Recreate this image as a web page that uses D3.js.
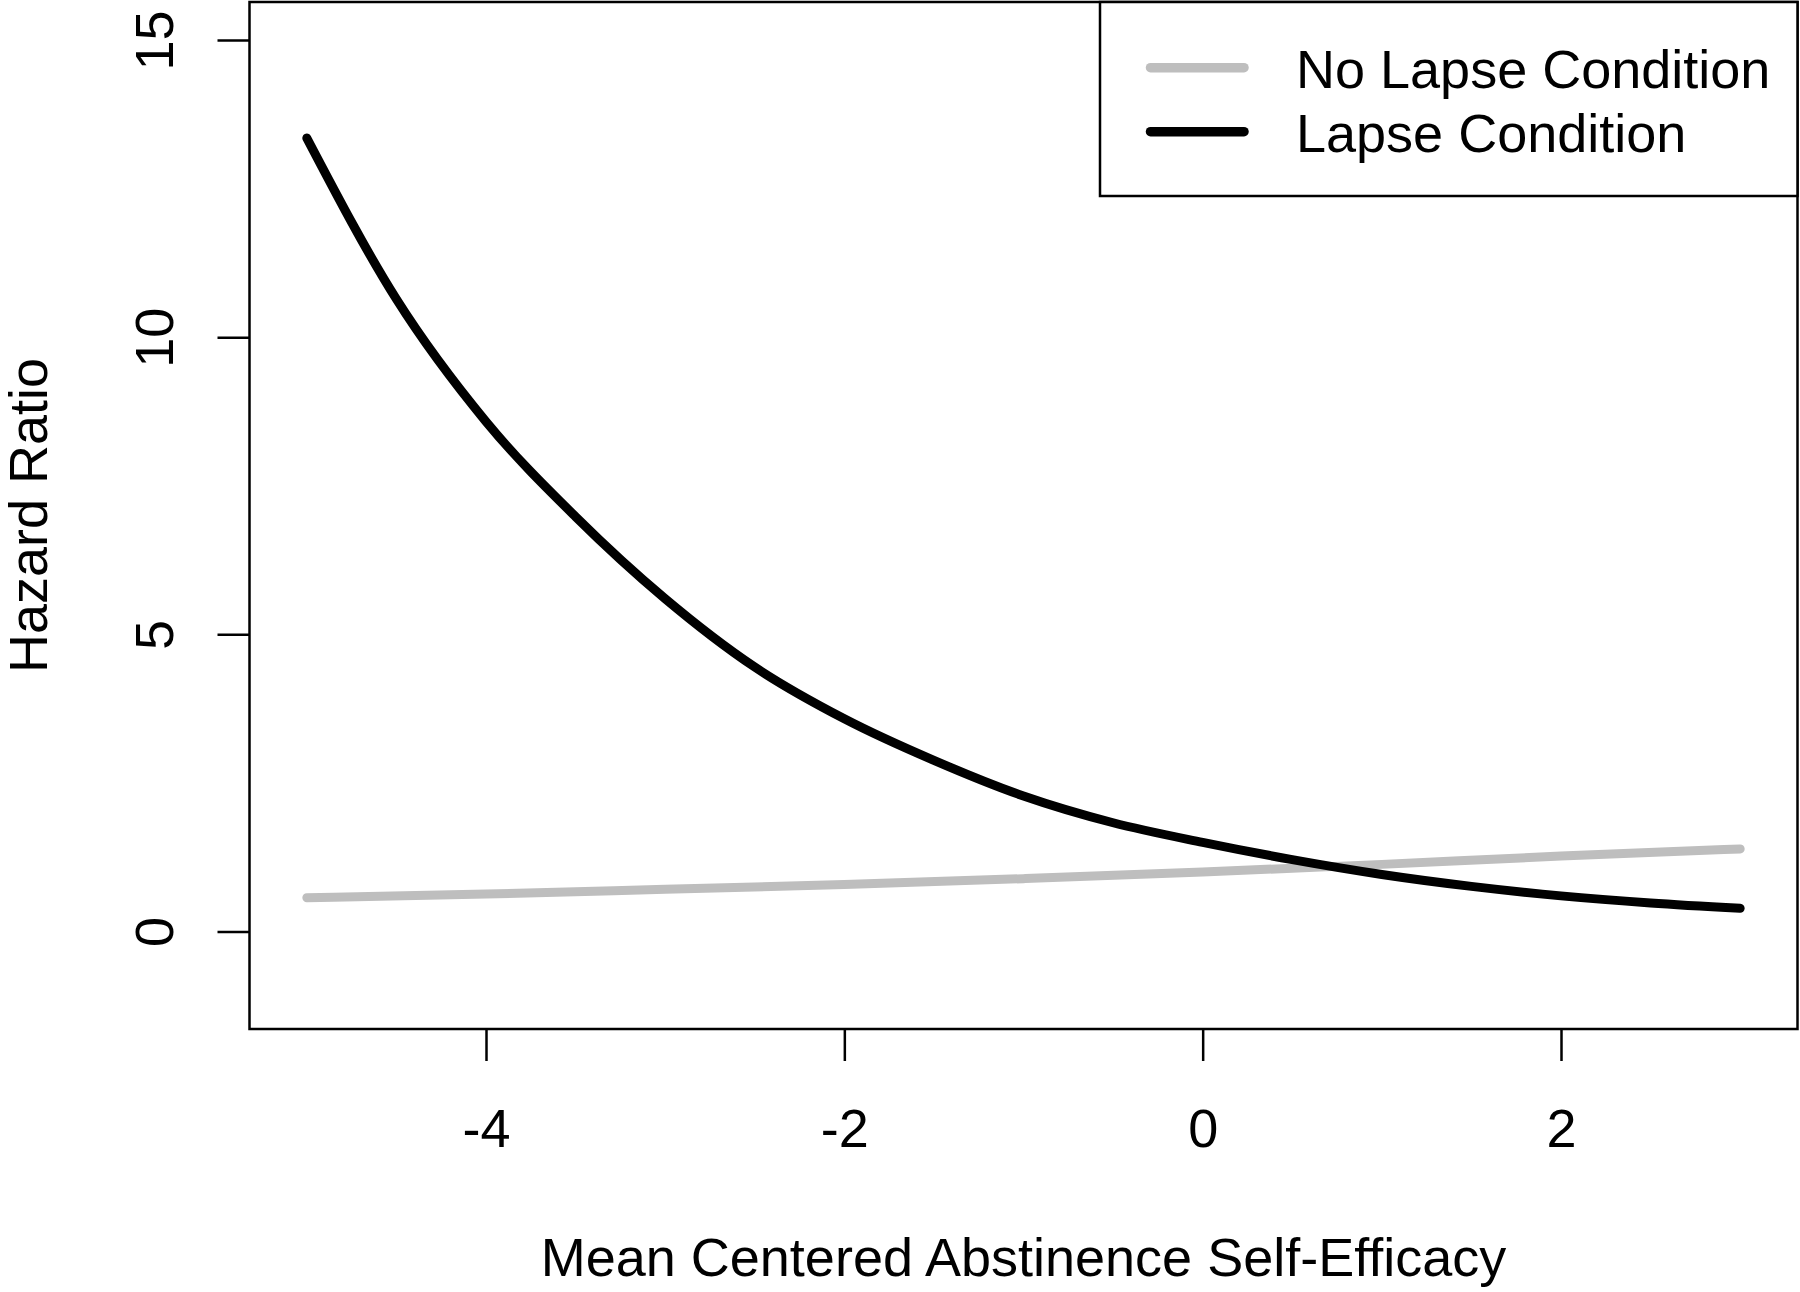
<!DOCTYPE html>
<html>
<head>
<meta charset="utf-8">
<script src="https://cdn.jsdelivr.net/npm/d3@7"></script>
<style>
  html, body { margin: 0; padding: 0; background: #fff; }
  svg { display: block; }
  text { font-family: "Liberation Sans", Arial, sans-serif; fill: #000; }
</style>
</head>
<body>
<svg id="chart" width="1800" height="1292"></svg>
<script>
// ---- data ----
const seriesNames = ["No Lapse Condition", "Lapse Condition"];
const seriesColors = ["#BEBEBE", "#000000"];

const noLapseX = [-5, -4, -3, -2, -1, 0, 1, 2, 3];
const noLapseY = [0.57, 0.63, 0.71, 0.79, 0.89, 1.00, 1.13, 1.27, 1.39];

const lapseX = [-5, -4.5, -4, -3.5, -3, -2.5, -2, -1.5, -1, -0.5, 0, 0.5, 1, 1.5, 2, 2.5, 3];
const lapseY = [13.35, 10.64, 8.58, 6.98, 5.60, 4.45, 3.58, 2.88, 2.28, 1.83, 1.50, 1.21, 0.96, 0.76, 0.60, 0.48, 0.39];

const xTicks = [-4, -2, 0, 2];
const yTicks = [0, 5, 10, 15];
const xLabel = "Mean Centered Abstinence Self-Efficacy";
const yLabel = "Hazard Ratio";

// ---- layout ----
const svg = d3.select("#chart");
const L = 249.5, R = 1797.5, T = 2, B = 1029;
const FS = 54;

const x = d3.scaleLinear().domain([-5.32, 3.32]).range([L, R]);
const y = d3.scaleLinear().domain([-1.64, 15.64]).range([B, T]);

const line = d3.line().x(d => x(d[0])).y(d => y(d[1])).curve(d3.curveMonotoneX);

const series = [
  d3.zip(noLapseX, noLapseY),
  d3.zip(lapseX, lapseY)
];

// lines
series.forEach((s, i) => {
  svg.append("path")
    .datum(s)
    .attr("d", line)
    .attr("fill", "none")
    .attr("stroke", seriesColors[i])
    .attr("stroke-width", 9)
    .attr("stroke-linecap", "round")
    .attr("stroke-linejoin", "round");
});

// box
svg.append("rect")
  .attr("x", L).attr("y", T).attr("width", R - L).attr("height", B - T)
  .attr("fill", "none").attr("stroke", "#000").attr("stroke-width", 2.5);

// x axis
const gx = svg.append("g").attr("transform", `translate(0,${B})`)
  .call(d3.axisBottom(x).tickValues(xTicks).tickSize(32).tickSizeOuter(0));
gx.select(".domain").remove();
gx.selectAll(".tick line").attr("stroke", "#000").attr("stroke-width", 2.5);
gx.selectAll(".tick text")
  .attr("y", 118).attr("dy", 0)
  .attr("font-size", FS)
  .attr("font-family", '"Liberation Sans", Arial, sans-serif')
  .attr("fill", "#000")
  .text(d => d < 0 ? "-" + Math.abs(d) : String(d));

// y axis
const gy = svg.append("g").attr("transform", `translate(${L},0)`)
  .call(d3.axisLeft(y).tickValues(yTicks).tickSize(32).tickSizeOuter(0));
gy.select(".domain").remove();
gy.selectAll(".tick line").attr("stroke", "#000").attr("stroke-width", 2.5);
gy.selectAll(".tick text")
  .attr("x", 0).attr("dy", 0)
  .attr("text-anchor", "middle")
  .attr("transform", "translate(-76.5,0) rotate(-90)")
  .attr("font-size", FS)
  .attr("font-family", '"Liberation Sans", Arial, sans-serif')
  .attr("fill", "#000");

// axis titles
svg.append("text")
  .attr("x", (L + R) / 2).attr("y", 1276)
  .attr("text-anchor", "middle").attr("font-size", FS)
  .text(xLabel);

svg.append("text")
  .attr("transform", `translate(47,${(T + B) / 2}) rotate(-90)`)
  .attr("text-anchor", "middle").attr("font-size", FS)
  .text(yLabel);

// legend
const lg = svg.append("g");
lg.append("rect")
  .attr("x", 1100).attr("y", T).attr("width", R - 1100).attr("height", 196 - T)
  .attr("fill", "#fff").attr("stroke", "#000").attr("stroke-width", 2.5);
const rowsY = [67.7, 131.7];
const rowsBase = [88, 152];
seriesNames.forEach((name, i) => {
  lg.append("line")
    .attr("x1", 1150.5).attr("x2", 1244)
    .attr("y1", rowsY[i]).attr("y2", rowsY[i])
    .attr("stroke", seriesColors[i]).attr("stroke-width", 9.5)
    .attr("stroke-linecap", "round");
  lg.append("text")
    .attr("x", 1296).attr("y", rowsBase[i])
    .attr("font-size", FS)
    .text(name);
});
</script>
</body>
</html>
